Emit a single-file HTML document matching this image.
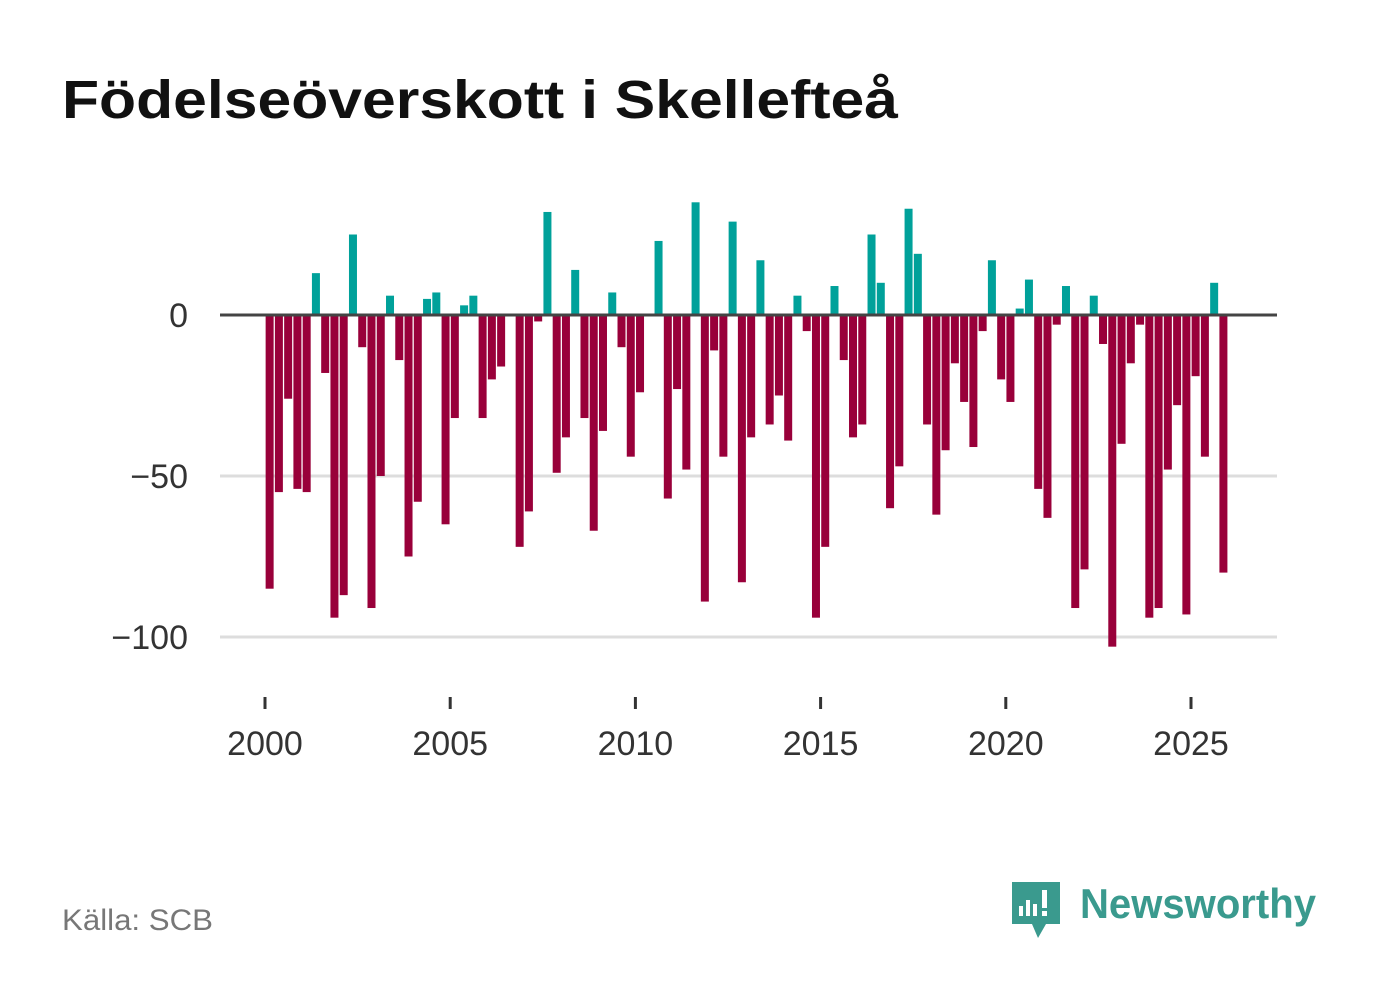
<!DOCTYPE html>
<html><head><meta charset="utf-8"><style>
body{margin:0;background:#fff;width:1382px;height:999px;overflow:hidden;font-family:"Liberation Sans","DejaVu Sans",sans-serif}
</style></head><body>
<svg width="1382" height="999" xmlns="http://www.w3.org/2000/svg">
<text x="62" y="118" font-size="54" font-weight="bold" fill="#111" textLength="836" lengthAdjust="spacingAndGlyphs">Födelseöverskott i Skellefteå</text>
<g id="grid"></g><g id="bars"></g><g id="axes"></g>
<text x="62" y="930" font-size="30" fill="#777" textLength="151" lengthAdjust="spacingAndGlyphs">Källa: SCB</text>
<g>
<path d="M1012 882 h48 v42 h-14 l-8 14 l-6 -14 h-20 z" fill="#3a9a8e"/>
<rect x="1019" y="906" width="4" height="10" fill="#fff"/><rect x="1026" y="900" width="4" height="16" fill="#fff"/><rect x="1033" y="904" width="4" height="12" fill="#fff"/><rect x="1042" y="890" width="5" height="18" fill="#fff"/><rect x="1042" y="911" width="5" height="5" fill="#fff"/>
<text x="1080" y="918" font-size="42" font-weight="bold" fill="#3a9a8e" textLength="236" lengthAdjust="spacingAndGlyphs">Newsworthy</text>
</g>
</svg>
<script>
const years=[2000,2005,2010,2015,2020,2025];
const yTicks=[0,-50,-100];
const yTickLabels=["0","\u221250","\u2212100"];
const values=[-85,-55,-26,-54,-55,13,-18,-94,-87,25,-10,-91,-50,6,-14,-75,-58,5,7,-65,-32,3,6,-32,-20,-16,0,-72,-61,-2,32,-49,-38,14,-32,-67,-36,7,-10,-44,-24,0,23,-57,-23,-48,35,-89,-11,-44,29,-83,-38,17,-34,-25,-39,6,-5,-94,-72,9,-14,-38,-34,25,10,-60,-47,33,19,-34,-62,-42,-15,-27,-41,-5,17,-20,-27,2,11,-54,-63,-3,9,-91,-79,6,-9,-103,-40,-15,-3,-94,-91,-48,-28,-93,-19,-44,10,-80];
const NS="http://www.w3.org/2000/svg";
const X=t=>265+(t-2000)*37.04;
const Y=v=>315-v*3.22;
function mk(tag,attrs,parent){const e=document.createElementNS(NS,tag);for(const k in attrs)e.setAttribute(k,attrs[k]);parent.appendChild(e);return e;}
const grid=document.getElementById('grid'),bars=document.getElementById('bars'),axes=document.getElementById('axes');
yTicks.forEach((v,i)=>{
 if(v!==0){const l=mk('line',{x1:220,x2:1277,y1:Y(v),y2:Y(v),stroke:'#dddddd','stroke-width':3},grid);
 
 }
 const t=mk('text',{x:188,y:Y(v)+12,'font-size':34,fill:'#333','text-anchor':'end'},axes);t.textContent=yTickLabels[i];
 
 
});
values.forEach((v,i)=>{
 const cx=X(2000+(i+0.5)/4);
 const r=mk('rect',{x:cx-4,width:8,y:v>=0?Y(v):Y(0),height:Math.abs(v)*3.22,fill:v>=0?'#00a19a':'#99003a'},bars);
 
 
});
const z=mk('line',{x1:220,x2:1277,y1:Y(0),y2:Y(0),stroke:'#444','stroke-width':3},axes);


years.forEach(y=>{
 const tk=mk('line',{x1:X(y),x2:X(y),y1:697,y2:709,stroke:'#333','stroke-width':3},axes);
 
 
 const t=mk('text',{x:X(y),y:755,'font-size':34,fill:'#333','text-anchor':'middle'},axes);t.textContent=y;
 
 
});
</script>
</body></html>
